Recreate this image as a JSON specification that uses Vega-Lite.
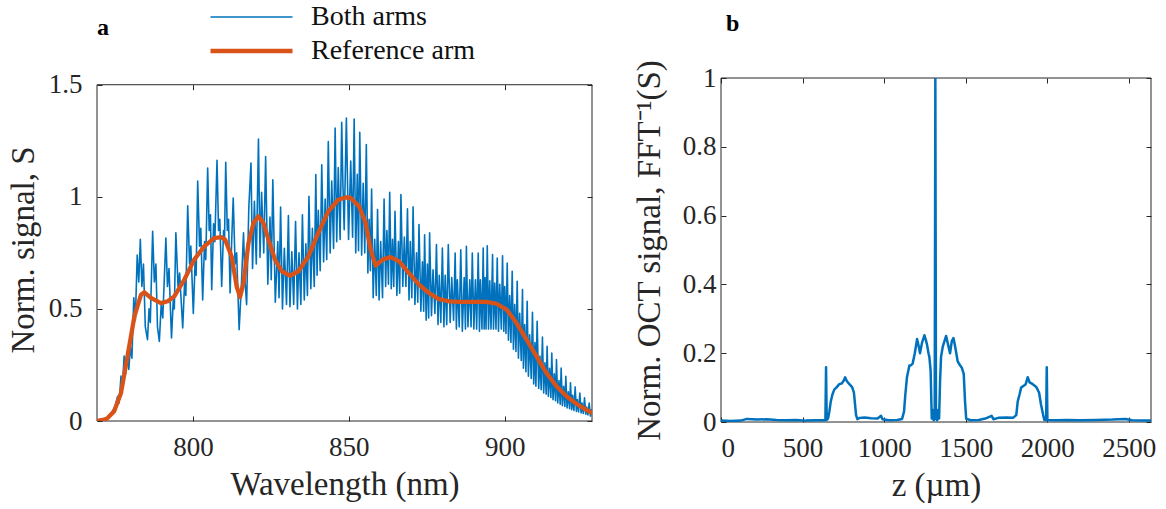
{
  "$schema": "https://vega.github.io/schema/vega-lite/v6.json",
  "background": "white",
  "padding": {"left": 7, "top": 2, "right": 5, "bottom": 5},
  "spacing": 40,
  "config": {
    "font": "Liberation Serif",
    "view": {"stroke": null},
    "axis": {
      "labelFont": "Liberation Serif", "titleFont": "Liberation Serif",
      "labelFontSize": 27, "titleFontSize": 33, "titleFontWeight": "normal",
      "labelColor": "#262626", "titleColor": "#262626",
      "tickColor": "#262626", "domainColor": "#262626",
      "grid": false, "tickSize": -5, "tickWidth": 1
    }
  },
  "datasets": {
    "spec": [
      {"w":769.2,"s":0.0,"k":"Both arms"},{"w":771.0,"s":0.005,"k":"Both arms"},{"w":772.5,"s":0.015,"k":"Both arms"},{"w":773.8,"s":0.035,"k":"Both arms"},{"w":775.0,"s":0.065,"k":"Both arms"},{"w":775.8,"s":0.11,"k":"Both arms"},{"w":776.3,"s":0.08,"k":"Both arms"},{"w":776.9,"s":0.2,"k":"Both arms"},{"w":777.4,"s":0.16,"k":"Both arms"},{"w":777.9,"s":0.29,"k":"Both arms"},{"w":778.4,"s":0.21,"k":"Both arms"},{"w":778.9,"s":0.31,"k":"Both arms"},{"w":779.4,"s":0.23,"k":"Both arms"},{"w":779.9,"s":0.33,"k":"Both arms"},{"w":780.4,"s":0.28,"k":"Both arms"},{"w":781.0,"s":0.55,"k":"Both arms"},{"w":781.5,"s":0.45,"k":"Both arms"},{"w":782.1,"s":0.74,"k":"Both arms"},{"w":782.6,"s":0.62,"k":"Both arms"},{"w":783.1,"s":0.81,"k":"Both arms"},{"w":783.6,"s":0.6,"k":"Both arms"},{"w":784.1,"s":0.7,"k":"Both arms"},{"w":784.7,"s":0.42,"k":"Both arms"},{"w":785.4,"s":0.363,"k":"Both arms"},{"w":785.9,"s":0.5,"k":"Both arms"},{"w":786.3,"s":0.44,"k":"Both arms"},{"w":787.05,"s":0.846,"k":"Both arms"},{"w":787.6,"s":0.62,"k":"Both arms"},{"w":788.1,"s":0.7,"k":"Both arms"},{"w":788.6,"s":0.42,"k":"Both arms"},{"w":789.2,"s":0.355,"k":"Both arms"},{"w":789.8,"s":0.52,"k":"Both arms"},{"w":790.3,"s":0.46,"k":"Both arms"},{"w":791.3,"s":0.816,"k":"Both arms"},{"w":791.8,"s":0.6,"k":"Both arms"},{"w":792.3,"s":0.68,"k":"Both arms"},{"w":793.1,"s":0.37,"k":"Both arms"},{"w":793.7,"s":0.55,"k":"Both arms"},{"w":794.0,"s":0.5,"k":"Both arms"},{"w":794.5,"s":0.84,"k":"Both arms"},{"w":795.2,"s":0.6,"k":"Both arms"},{"w":795.7,"s":0.66,"k":"Both arms"},{"w":796.7,"s":0.415,"k":"Both arms"},{"w":797.3,"s":0.62,"k":"Both arms"},{"w":797.7,"s":0.56,"k":"Both arms"},{"w":798.3,"s":0.96,"k":"Both arms"},{"w":798.9,"s":0.7,"k":"Both arms"},{"w":799.3,"s":0.78,"k":"Both arms"},{"w":800.1,"s":0.48,"k":"Both arms"},{"w":800.7,"s":0.72,"k":"Both arms"},{"w":801.0,"s":0.65,"k":"Both arms"},{"w":801.5,"s":1.07,"k":"Both arms"},{"w":802.1,"s":0.78,"k":"Both arms"},{"w":802.5,"s":0.86,"k":"Both arms"},{"w":803.1,"s":0.54,"k":"Both arms"},{"w":803.7,"s":0.8,"k":"Both arms"},{"w":804.1,"s":0.72,"k":"Both arms"},{"w":804.7,"s":1.128,"k":"Both arms"},{"w":805.2,"s":0.85,"k":"Both arms"},{"w":805.6,"s":0.92,"k":"Both arms"},{"w":806.0,"s":0.586,"k":"Both arms"},{"w":806.6,"s":0.88,"k":"Both arms"},{"w":807.0,"s":0.8,"k":"Both arms"},{"w":807.7,"s":1.163,"k":"Both arms"},{"w":808.2,"s":0.85,"k":"Both arms"},{"w":808.6,"s":0.9,"k":"Both arms"},{"w":809.2,"s":0.6,"k":"Both arms"},{"w":809.8,"s":0.85,"k":"Both arms"},{"w":810.1,"s":0.8,"k":"Both arms"},{"w":810.5,"s":1.154,"k":"Both arms"},{"w":811.0,"s":0.85,"k":"Both arms"},{"w":811.4,"s":0.9,"k":"Both arms"},{"w":811.9,"s":0.571,"k":"Both arms"},{"w":812.4,"s":0.8,"k":"Both arms"},{"w":812.9,"s":0.995,"k":"Both arms"},{"w":813.5,"s":0.7,"k":"Both arms"},{"w":814.0,"s":0.75,"k":"Both arms"},{"w":814.8,"s":0.407,"k":"Both arms"},{"w":815.5,"s":0.6,"k":"Both arms"},{"w":816.2,"s":0.839,"k":"Both arms"},{"w":816.7,"s":0.62,"k":"Both arms"},{"w":817.2,"s":0.519,"k":"Both arms"},{"w":817.9,"s":0.95,"k":"Both arms"},{"w":818.6,"s":1.151,"k":"Both arms"},{"w":819.1,"s":0.68,"k":"Both arms"},{"w":819.7,"s":0.98,"k":"Both arms"},{"w":820.3,"s":0.7,"k":"Both arms"},{"w":821.0,"s":1.258,"k":"Both arms"},{"w":821.5,"s":0.73,"k":"Both arms"},{"w":822.0,"s":1.02,"k":"Both arms"},{"w":822.7,"s":0.75,"k":"Both arms"},{"w":823.3,"s":1.18,"k":"Both arms"},{"w":824.0,"s":0.61,"k":"Both arms"},{"w":824.7,"s":0.91,"k":"Both arms"},{"w":825.1,"s":0.63,"k":"Both arms"},{"w":825.6,"s":1.076,"k":"Both arms"},{"w":826.4,"s":0.53,"k":"Both arms"},{"w":827.2,"s":0.8,"k":"Both arms"},{"w":827.6,"s":0.55,"k":"Both arms"},{"w":828.1,"s":0.954,"k":"Both arms"},{"w":828.7,"s":0.5,"k":"Both arms"},{"w":829.3,"s":0.77,"k":"Both arms"},{"w":830.0,"s":0.52,"k":"Both arms"},{"w":830.6,"s":0.916,"k":"Both arms"},{"w":831.1,"s":0.51,"k":"Both arms"},{"w":831.7,"s":0.755,"k":"Both arms"},{"w":832.3,"s":0.52,"k":"Both arms"},{"w":832.9,"s":0.89,"k":"Both arms"},{"w":833.5,"s":0.5,"k":"Both arms"},{"w":834.0,"s":0.75,"k":"Both arms"},{"w":834.6,"s":0.52,"k":"Both arms"},{"w":835.1,"s":0.92,"k":"Both arms"},{"w":835.7,"s":0.54,"k":"Both arms"},{"w":836.2,"s":0.79,"k":"Both arms"},{"w":836.7,"s":0.56,"k":"Both arms"},{"w":837.2,"s":1.002,"k":"Both arms"},{"w":837.8,"s":0.59,"k":"Both arms"},{"w":838.3,"s":0.86,"k":"Both arms"},{"w":838.9,"s":0.6,"k":"Both arms"},{"w":839.4,"s":1.099,"k":"Both arms"},{"w":839.8,"s":0.65,"k":"Both arms"},{"w":840.2,"s":0.94,"k":"Both arms"},{"w":840.8,"s":0.67,"k":"Both arms"},{"w":841.3,"s":1.143,"k":"Both arms"},{"w":841.9,"s":0.71,"k":"Both arms"},{"w":842.4,"s":0.99,"k":"Both arms"},{"w":842.9,"s":0.72,"k":"Both arms"},{"w":843.4,"s":1.247,"k":"Both arms"},{"w":844.0,"s":0.75,"k":"Both arms"},{"w":844.5,"s":1.07,"k":"Both arms"},{"w":845.1,"s":0.77,"k":"Both arms"},{"w":845.6,"s":1.307,"k":"Both arms"},{"w":846.1,"s":0.8,"k":"Both arms"},{"w":846.6,"s":1.13,"k":"Both arms"},{"w":847.2,"s":0.81,"k":"Both arms"},{"w":847.7,"s":1.332,"k":"Both arms"},{"w":848.1,"s":1.05,"k":"Both arms"},{"w":848.5,"s":0.853,"k":"Both arms"},{"w":849.2,"s":1.351,"k":"Both arms"},{"w":849.9,"s":0.81,"k":"Both arms"},{"w":850.6,"s":1.16,"k":"Both arms"},{"w":851.2,"s":0.82,"k":"Both arms"},{"w":851.7,"s":1.347,"k":"Both arms"},{"w":852.2,"s":0.75,"k":"Both arms"},{"w":852.7,"s":1.1,"k":"Both arms"},{"w":853.1,"s":0.76,"k":"Both arms"},{"w":853.5,"s":1.288,"k":"Both arms"},{"w":854.1,"s":0.74,"k":"Both arms"},{"w":854.6,"s":1.06,"k":"Both arms"},{"w":855.1,"s":0.75,"k":"Both arms"},{"w":855.6,"s":1.233,"k":"Both arms"},{"w":856.1,"s":0.66,"k":"Both arms"},{"w":856.5,"s":0.9,"k":"Both arms"},{"w":856.9,"s":0.67,"k":"Both arms"},{"w":857.3,"s":1.035,"k":"Both arms"},{"w":857.8,"s":0.55,"k":"Both arms"},{"w":858.3,"s":0.81,"k":"Both arms"},{"w":858.8,"s":0.56,"k":"Both arms"},{"w":859.2,"s":0.943,"k":"Both arms"},{"w":859.7,"s":0.54,"k":"Both arms"},{"w":860.2,"s":0.8,"k":"Both arms"},{"w":860.8,"s":0.55,"k":"Both arms"},{"w":861.3,"s":0.99,"k":"Both arms"},{"w":861.8,"s":0.6,"k":"Both arms"},{"w":862.2,"s":0.85,"k":"Both arms"},{"w":862.7,"s":0.61,"k":"Both arms"},{"w":863.1,"s":1.02,"k":"Both arms"},{"w":863.6,"s":0.59,"k":"Both arms"},{"w":864.0,"s":0.81,"k":"Both arms"},{"w":864.4,"s":0.6,"k":"Both arms"},{"w":864.8,"s":0.935,"k":"Both arms"},{"w":865.4,"s":0.56,"k":"Both arms"},{"w":865.9,"s":0.8,"k":"Both arms"},{"w":866.3,"s":0.57,"k":"Both arms"},{"w":866.7,"s":1.01,"k":"Both arms"},{"w":867.3,"s":0.6,"k":"Both arms"},{"w":867.8,"s":0.82,"k":"Both arms"},{"w":868.3,"s":0.6,"k":"Both arms"},{"w":868.8,"s":0.946,"k":"Both arms"},{"w":869.3,"s":0.54,"k":"Both arms"},{"w":869.7,"s":0.8,"k":"Both arms"},{"w":870.2,"s":0.55,"k":"Both arms"},{"w":870.6,"s":0.955,"k":"Both arms"},{"w":871.2,"s":0.52,"k":"Both arms"},{"w":871.7,"s":0.75,"k":"Both arms"},{"w":872.1,"s":0.53,"k":"Both arms"},{"w":872.5,"s":0.876,"k":"Both arms"},{"w":873.1,"s":0.49,"k":"Both arms"},{"w":873.6,"s":0.71,"k":"Both arms"},{"w":874.0,"s":0.49,"k":"Both arms"},{"w":874.3,"s":0.831,"k":"Both arms"},{"w":874.8,"s":0.45,"k":"Both arms"},{"w":875.2,"s":0.7,"k":"Both arms"},{"w":875.6,"s":0.46,"k":"Both arms"},{"w":875.9,"s":0.839,"k":"Both arms"},{"w":876.5,"s":0.47,"k":"Both arms"},{"w":877.0,"s":0.675,"k":"Both arms"},{"w":877.6,"s":0.48,"k":"Both arms"},{"w":878.1,"s":0.787,"k":"Both arms"},{"w":878.6,"s":0.43,"k":"Both arms"},{"w":879.0,"s":0.65,"k":"Both arms"},{"w":879.5,"s":0.44,"k":"Both arms"},{"w":880.0,"s":0.772,"k":"Both arms"},{"w":880.5,"s":0.42,"k":"Both arms"},{"w":880.9,"s":0.65,"k":"Both arms"},{"w":881.4,"s":0.43,"k":"Both arms"},{"w":881.9,"s":0.787,"k":"Both arms"},{"w":882.5,"s":0.44,"k":"Both arms"},{"w":883.0,"s":0.64,"k":"Both arms"},{"w":883.6,"s":0.45,"k":"Both arms"},{"w":884.1,"s":0.749,"k":"Both arms"},{"w":884.5,"s":0.41,"k":"Both arms"},{"w":884.8,"s":0.63,"k":"Both arms"},{"w":885.4,"s":0.42,"k":"Both arms"},{"w":885.9,"s":0.764,"k":"Both arms"},{"w":886.4,"s":0.4,"k":"Both arms"},{"w":887.0,"s":0.64,"k":"Both arms"},{"w":887.4,"s":0.41,"k":"Both arms"},{"w":887.7,"s":0.779,"k":"Both arms"},{"w":888.2,"s":0.42,"k":"Both arms"},{"w":888.8,"s":0.63,"k":"Both arms"},{"w":889.2,"s":0.42,"k":"Both arms"},{"w":889.6,"s":0.749,"k":"Both arms"},{"w":890.1,"s":0.41,"k":"Both arms"},{"w":890.6,"s":0.63,"k":"Both arms"},{"w":891.0,"s":0.41,"k":"Both arms"},{"w":891.5,"s":0.749,"k":"Both arms"},{"w":891.9,"s":0.4,"k":"Both arms"},{"w":892.2,"s":0.63,"k":"Both arms"},{"w":892.7,"s":0.41,"k":"Both arms"},{"w":893.1,"s":0.772,"k":"Both arms"},{"w":893.4,"s":0.41,"k":"Both arms"},{"w":893.7,"s":0.64,"k":"Both arms"},{"w":894.0,"s":0.41,"k":"Both arms"},{"w":894.4,"s":0.782,"k":"Both arms"},{"w":894.8,"s":0.41,"k":"Both arms"},{"w":895.2,"s":0.625,"k":"Both arms"},{"w":895.6,"s":0.41,"k":"Both arms"},{"w":896.1,"s":0.742,"k":"Both arms"},{"w":896.4,"s":0.41,"k":"Both arms"},{"w":896.8,"s":0.615,"k":"Both arms"},{"w":897.2,"s":0.41,"k":"Both arms"},{"w":897.6,"s":0.727,"k":"Both arms"},{"w":898.0,"s":0.4,"k":"Both arms"},{"w":898.4,"s":0.61,"k":"Both arms"},{"w":898.9,"s":0.41,"k":"Both arms"},{"w":899.3,"s":0.737,"k":"Both arms"},{"w":899.7,"s":0.4,"k":"Both arms"},{"w":900.0,"s":0.6,"k":"Both arms"},{"w":900.4,"s":0.39,"k":"Both arms"},{"w":900.8,"s":0.705,"k":"Both arms"},{"w":901.2,"s":0.36,"k":"Both arms"},{"w":901.6,"s":0.56,"k":"Both arms"},{"w":902.0,"s":0.35,"k":"Both arms"},{"w":902.4,"s":0.668,"k":"Both arms"},{"w":902.8,"s":0.32,"k":"Both arms"},{"w":903.2,"s":0.52,"k":"Both arms"},{"w":903.6,"s":0.31,"k":"Both arms"},{"w":904.0,"s":0.623,"k":"Both arms"},{"w":904.4,"s":0.28,"k":"Both arms"},{"w":904.8,"s":0.48,"k":"Both arms"},{"w":905.3,"s":0.27,"k":"Both arms"},{"w":905.7,"s":0.586,"k":"Both arms"},{"w":906.0,"s":0.235,"k":"Both arms"},{"w":906.4,"s":0.43,"k":"Both arms"},{"w":906.8,"s":0.22,"k":"Both arms"},{"w":907.2,"s":0.534,"k":"Both arms"},{"w":907.6,"s":0.2,"k":"Both arms"},{"w":908.0,"s":0.385,"k":"Both arms"},{"w":908.5,"s":0.19,"k":"Both arms"},{"w":908.9,"s":0.485,"k":"Both arms"},{"w":909.3,"s":0.165,"k":"Both arms"},{"w":909.7,"s":0.35,"k":"Both arms"},{"w":910.0,"s":0.155,"k":"Both arms"},{"w":910.4,"s":0.445,"k":"Both arms"},{"w":910.9,"s":0.145,"k":"Both arms"},{"w":911.3,"s":0.29,"k":"Both arms"},{"w":911.7,"s":0.14,"k":"Both arms"},{"w":912.1,"s":0.375,"k":"Both arms"},{"w":912.5,"s":0.125,"k":"Both arms"},{"w":912.9,"s":0.26,"k":"Both arms"},{"w":913.3,"s":0.12,"k":"Both arms"},{"w":913.6,"s":0.333,"k":"Both arms"},{"w":914.0,"s":0.11,"k":"Both arms"},{"w":914.4,"s":0.235,"k":"Both arms"},{"w":914.8,"s":0.105,"k":"Both arms"},{"w":915.1,"s":0.303,"k":"Both arms"},{"w":915.5,"s":0.095,"k":"Both arms"},{"w":915.9,"s":0.21,"k":"Both arms"},{"w":916.3,"s":0.09,"k":"Both arms"},{"w":916.6,"s":0.274,"k":"Both arms"},{"w":917.0,"s":0.08,"k":"Both arms"},{"w":917.4,"s":0.18,"k":"Both arms"},{"w":917.8,"s":0.075,"k":"Both arms"},{"w":918.1,"s":0.236,"k":"Both arms"},{"w":918.5,"s":0.068,"k":"Both arms"},{"w":918.9,"s":0.155,"k":"Both arms"},{"w":919.3,"s":0.065,"k":"Both arms"},{"w":919.6,"s":0.199,"k":"Both arms"},{"w":920.0,"s":0.058,"k":"Both arms"},{"w":920.4,"s":0.13,"k":"Both arms"},{"w":920.8,"s":0.055,"k":"Both arms"},{"w":921.1,"s":0.17,"k":"Both arms"},{"w":921.5,"s":0.05,"k":"Both arms"},{"w":921.8,"s":0.115,"k":"Both arms"},{"w":922.2,"s":0.047,"k":"Both arms"},{"w":922.6,"s":0.152,"k":"Both arms"},{"w":923.0,"s":0.043,"k":"Both arms"},{"w":923.3,"s":0.096,"k":"Both arms"},{"w":923.7,"s":0.04,"k":"Both arms"},{"w":924.1,"s":0.125,"k":"Both arms"},{"w":924.5,"s":0.036,"k":"Both arms"},{"w":924.8,"s":0.08,"k":"Both arms"},{"w":925.2,"s":0.034,"k":"Both arms"},{"w":925.6,"s":0.103,"k":"Both arms"},{"w":926.0,"s":0.03,"k":"Both arms"},{"w":926.3,"s":0.062,"k":"Both arms"},{"w":926.7,"s":0.027,"k":"Both arms"},{"w":927.1,"s":0.08,"k":"Both arms"},{"w":927.5,"s":0.022,"k":"Both arms"},{"w":927.8,"s":0.05,"k":"Both arms"},{"w":928.0,"s":0.03,"k":"Both arms"},
      {"w":769.2,"s":0.0,"k":"Reference arm"},{"w":771.5,"s":0.006,"k":"Reference arm"},{"w":772.6,"s":0.013,"k":"Reference arm"},{"w":774.7,"s":0.043,"k":"Reference arm"},{"w":776.9,"s":0.125,"k":"Reference arm"},{"w":779.0,"s":0.29,"k":"Reference arm"},{"w":781.2,"s":0.467,"k":"Reference arm"},{"w":783.3,"s":0.563,"k":"Reference arm"},{"w":784.4,"s":0.574,"k":"Reference arm"},{"w":786.5,"s":0.549,"k":"Reference arm"},{"w":789.7,"s":0.526,"k":"Reference arm"},{"w":791.9,"s":0.534,"k":"Reference arm"},{"w":794.0,"s":0.556,"k":"Reference arm"},{"w":797.2,"s":0.63,"k":"Reference arm"},{"w":800.4,"s":0.72,"k":"Reference arm"},{"w":803.6,"s":0.779,"k":"Reference arm"},{"w":806.8,"s":0.816,"k":"Reference arm"},{"w":809.0,"s":0.82,"k":"Reference arm"},{"w":810.3,"s":0.809,"k":"Reference arm"},{"w":812.4,"s":0.734,"k":"Reference arm"},{"w":814.0,"s":0.6,"k":"Reference arm"},{"w":815.1,"s":0.553,"k":"Reference arm"},{"w":816.2,"s":0.616,"k":"Reference arm"},{"w":817.8,"s":0.794,"k":"Reference arm"},{"w":819.4,"s":0.883,"k":"Reference arm"},{"w":821.0,"s":0.913,"k":"Reference arm"},{"w":822.6,"s":0.883,"k":"Reference arm"},{"w":824.2,"s":0.809,"k":"Reference arm"},{"w":826.3,"s":0.72,"k":"Reference arm"},{"w":828.5,"s":0.668,"k":"Reference arm"},{"w":831.1,"s":0.648,"k":"Reference arm"},{"w":833.8,"s":0.668,"k":"Reference arm"},{"w":837.0,"s":0.734,"k":"Reference arm"},{"w":840.2,"s":0.839,"k":"Reference arm"},{"w":843.4,"s":0.935,"k":"Reference arm"},{"w":846.6,"s":0.987,"k":"Reference arm"},{"w":849.2,"s":0.998,"k":"Reference arm"},{"w":850.6,"s":0.995,"k":"Reference arm"},{"w":853.3,"s":0.957,"k":"Reference arm"},{"w":855.4,"s":0.883,"k":"Reference arm"},{"w":857.0,"s":0.764,"k":"Reference arm"},{"w":858.6,"s":0.693,"k":"Reference arm"},{"w":860.8,"s":0.72,"k":"Reference arm"},{"w":863.4,"s":0.731,"k":"Reference arm"},{"w":866.1,"s":0.712,"k":"Reference arm"},{"w":869.3,"s":0.66,"k":"Reference arm"},{"w":872.5,"s":0.608,"k":"Reference arm"},{"w":875.7,"s":0.571,"k":"Reference arm"},{"w":878.9,"s":0.544,"k":"Reference arm"},{"w":882.2,"s":0.534,"k":"Reference arm"},{"w":885.4,"s":0.531,"k":"Reference arm"},{"w":889.0,"s":0.531,"k":"Reference arm"},{"w":894.1,"s":0.531,"k":"Reference arm"},{"w":897.4,"s":0.523,"k":"Reference arm"},{"w":900.6,"s":0.497,"k":"Reference arm"},{"w":903.8,"s":0.437,"k":"Reference arm"},{"w":907.0,"s":0.363,"k":"Reference arm"},{"w":910.2,"s":0.288,"k":"Reference arm"},{"w":913.4,"s":0.214,"k":"Reference arm"},{"w":916.6,"s":0.155,"k":"Reference arm"},{"w":919.8,"s":0.11,"k":"Reference arm"},{"w":923.0,"s":0.077,"k":"Reference arm"},{"w":926.2,"s":0.05,"k":"Reference arm"},{"w":928.0,"s":0.036,"k":"Reference arm"}
    ],
    "oct": [
      {"z":0,"v":0.004},{"z":60,"v":0.003},{"z":120,"v":0.004},{"z":160,"v":0.009},{"z":220,"v":0.007},{"z":280,"v":0.008},{"z":340,"v":0.006},{"z":400,"v":0.005},{"z":460,"v":0.006},{"z":520,"v":0.004},{"z":580,"v":0.005},{"z":630,"v":0.005},{"z":640,"v":0.006},{"z":644,"v":0.159},{"z":648,"v":0.006},{"z":656,"v":0.01},{"z":664,"v":0.03},{"z":673,"v":0.06},{"z":683,"v":0.08},{"z":695,"v":0.095},{"z":707,"v":0.1},{"z":716,"v":0.105},{"z":725,"v":0.11},{"z":740,"v":0.112},{"z":752,"v":0.12},{"z":761,"v":0.13},{"z":770,"v":0.12},{"z":787,"v":0.11},{"z":797,"v":0.105},{"z":805,"v":0.1},{"z":815,"v":0.085},{"z":822,"v":0.05},{"z":828,"v":0.02},{"z":836,"v":0.008},{"z":850,"v":0.012},{"z":880,"v":0.013},{"z":920,"v":0.011},{"z":960,"v":0.01},{"z":981,"v":0.018},{"z":990,"v":0.008},{"z":1030,"v":0.005},{"z":1080,"v":0.006},{"z":1110,"v":0.009},{"z":1122,"v":0.03},{"z":1130,"v":0.08},{"z":1140,"v":0.13},{"z":1155,"v":0.164},{"z":1165,"v":0.165},{"z":1175,"v":0.17},{"z":1188,"v":0.2},{"z":1202,"v":0.241},{"z":1212,"v":0.22},{"z":1220,"v":0.2},{"z":1232,"v":0.23},{"z":1247,"v":0.252},{"z":1256,"v":0.238},{"z":1263,"v":0.225},{"z":1272,"v":0.2},{"z":1277,"v":0.19},{"z":1285,"v":0.15},{"z":1292,"v":0.01},{"z":1298,"v":0.035},{"z":1304,"v":0.005},{"z":1310,"v":0.01},{"z":1314,"v":1.0},{"z":1318,"v":0.01},{"z":1325,"v":0.005},{"z":1331,"v":0.035},{"z":1337,"v":0.01},{"z":1343,"v":0.12},{"z":1349,"v":0.19},{"z":1360,"v":0.22},{"z":1370,"v":0.235},{"z":1380,"v":0.25},{"z":1392,"v":0.225},{"z":1404,"v":0.2},{"z":1415,"v":0.235},{"z":1425,"v":0.244},{"z":1435,"v":0.22},{"z":1451,"v":0.176},{"z":1465,"v":0.165},{"z":1476,"v":0.158},{"z":1488,"v":0.14},{"z":1496,"v":0.06},{"z":1503,"v":0.01},{"z":1530,"v":0.005},{"z":1580,"v":0.006},{"z":1620,"v":0.01},{"z":1659,"v":0.018},{"z":1670,"v":0.008},{"z":1700,"v":0.012},{"z":1750,"v":0.013},{"z":1790,"v":0.012},{"z":1810,"v":0.02},{"z":1819,"v":0.06},{"z":1830,"v":0.08},{"z":1840,"v":0.1},{"z":1855,"v":0.105},{"z":1868,"v":0.11},{"z":1880,"v":0.13},{"z":1892,"v":0.115},{"z":1911,"v":0.11},{"z":1925,"v":0.105},{"z":1935,"v":0.1},{"z":1950,"v":0.085},{"z":1962,"v":0.05},{"z":1975,"v":0.02},{"z":1982,"v":0.006},{"z":1993,"v":0.006},{"z":1997,"v":0.159},{"z":2001,"v":0.006},{"z":2050,"v":0.005},{"z":2120,"v":0.006},{"z":2200,"v":0.005},{"z":2300,"v":0.006},{"z":2400,"v":0.007},{"z":2480,"v":0.009},{"z":2520,"v":0.005},{"z":2600,"v":0.004},{"z":2636,"v":0.004}
    ]
  },
  "hconcat": [
    {
      "width": 495,
      "height": 343,
      "layer": [
        {
          "data": {"values": [{}]},
          "mark": {"type": "rect", "fill": null, "stroke": "#262626", "strokeWidth": 1},
          "encoding": {
            "x": {"datum": 769.2, "type": "quantitative",
                  "scale": {"domain": [769.2, 928], "nice": false, "zero": false},
                  "axis": {"orient": "top", "values": [800, 850, 900], "labels": false, "title": null, "domain": false, "offset": -6.7}},
            "x2": {"datum": 928},
            "y": {"datum": 0, "type": "quantitative",
                  "scale": {"domain": [0, 1.53], "nice": false, "zero": true},
                  "axis": {"orient": "right", "values": [0, 0.5, 1, 1.5], "labels": false, "title": null, "domain": false}},
            "y2": {"datum": 1.5}
          }
        },
        {
          "data": {"name": "spec"},
          "mark": {"type": "line", "clip": true, "strokeJoin": "round", "strokeCap": "round"},
          "encoding": {
            "x": {"field": "w", "type": "quantitative",
                  "axis": {"orient": "bottom", "title": "Wavelength (nm)", "values": [800, 850, 900], "domain": false, "labelPadding": 18, "titlePadding": 8}},
            "y": {"field": "s", "type": "quantitative",
                  "axis": {"orient": "left", "title": "Norm. signal, S", "values": [0, 0.5, 1, 1.5], "format": "~g", "domain": false, "labelPadding": 20, "titlePadding": 8}},
            "color": {"field": "k", "type": "nominal",
                      "scale": {"domain": ["Both arms", "Reference arm"], "range": ["#0072BD", "#D95319"]},
                      "legend": {"orient": "none", "legendX": 0, "legendY": -76, "title": "a", "titleOrient": "left", "titleAnchor": "start",
                                 "titleFont": "Liberation Serif", "titleFontSize": 24, "titleFontWeight": "bold", "titleColor": "#000000",
                                 "titlePadding": 99, "titleBaseline": "line-top", "titleLineHeight": 52,
                                 "labelFont": "Liberation Serif", "labelFontSize": 28, "labelColor": "#111111", "labelOffset": 16, "labelLimit": 0,
                                 "symbolType": "stroke", "symbolSize": 6724, "clipHeight": 30, "rowPadding": 4, "padding": 0}},
            "strokeWidth": {"field": "k", "type": "nominal",
                            "scale": {"domain": ["Both arms", "Reference arm"], "range": [1.6, 4.3]},
                            "legend": {"orient": "none", "legendX": 0, "legendY": -76, "title": "a", "titleOrient": "left", "titleAnchor": "start",
                                 "titleFont": "Liberation Serif", "titleFontSize": 24, "titleFontWeight": "bold", "titleColor": "#000000",
                                 "titlePadding": 99, "titleBaseline": "line-top", "titleLineHeight": 52,
                                 "labelFont": "Liberation Serif", "labelFontSize": 28, "labelColor": "#111111", "labelOffset": 16, "labelLimit": 0,
                                 "symbolType": "stroke", "symbolSize": 6724, "clipHeight": 30, "rowPadding": 4, "padding": 0}}
          }
        }
      ],
      "resolve": {"axis": {"x": "independent", "y": "independent"}}
    },
    {
      "width": 430,
      "height": 344,
      "title": {"text": "b", "anchor": "start", "frame": "group", "font": "Liberation Serif", "fontSize": 24, "fontWeight": "bold", "color": "#000000", "offset": 29, "dx": 5, "dy": 6},
      "layer": [
        {
          "data": {"values": [{}]},
          "mark": {"type": "rect", "fill": null, "stroke": "#262626", "strokeWidth": 1},
          "encoding": {
            "x": {"datum": 0, "type": "quantitative",
                  "scale": {"domain": [0, 2636], "nice": false, "zero": false},
                  "axis": {"orient": "top", "values": [0, 500, 1000, 1500, 2000, 2500], "labels": false, "title": null, "domain": false}},
            "x2": {"datum": 2636},
            "y": {"datum": 0, "type": "quantitative",
                  "scale": {"domain": [0, 1], "nice": false},
                  "axis": {"orient": "right", "values": [0, 0.2, 0.4, 0.6, 0.8, 1], "labels": false, "title": null, "domain": false}},
            "y2": {"datum": 1}
          }
        },
        {
          "data": {"name": "oct"},
          "mark": {"type": "line", "color": "#0072BD", "strokeWidth": 2.5, "clip": true, "strokeJoin": "round"},
          "encoding": {
            "x": {"field": "z", "type": "quantitative",
                  "axis": {"orient": "bottom", "title": "z (µm)", "values": [0, 500, 1000, 1500, 2000, 2500], "format": "d", "domain": false, "labelPadding": 18, "titlePadding": 8}},
            "y": {"field": "v", "type": "quantitative",
                  "axis": {"orient": "left", "title": "Norm. OCT signal, FFT⁻¹(S)", "values": [0, 0.2, 0.4, 0.6, 0.8, 1], "format": "~g", "domain": false, "labelPadding": 10, "titlePadding": 16}}
          }
        }
      ],
      "resolve": {"axis": {"x": "independent", "y": "independent"}}
    }
  ]
}
